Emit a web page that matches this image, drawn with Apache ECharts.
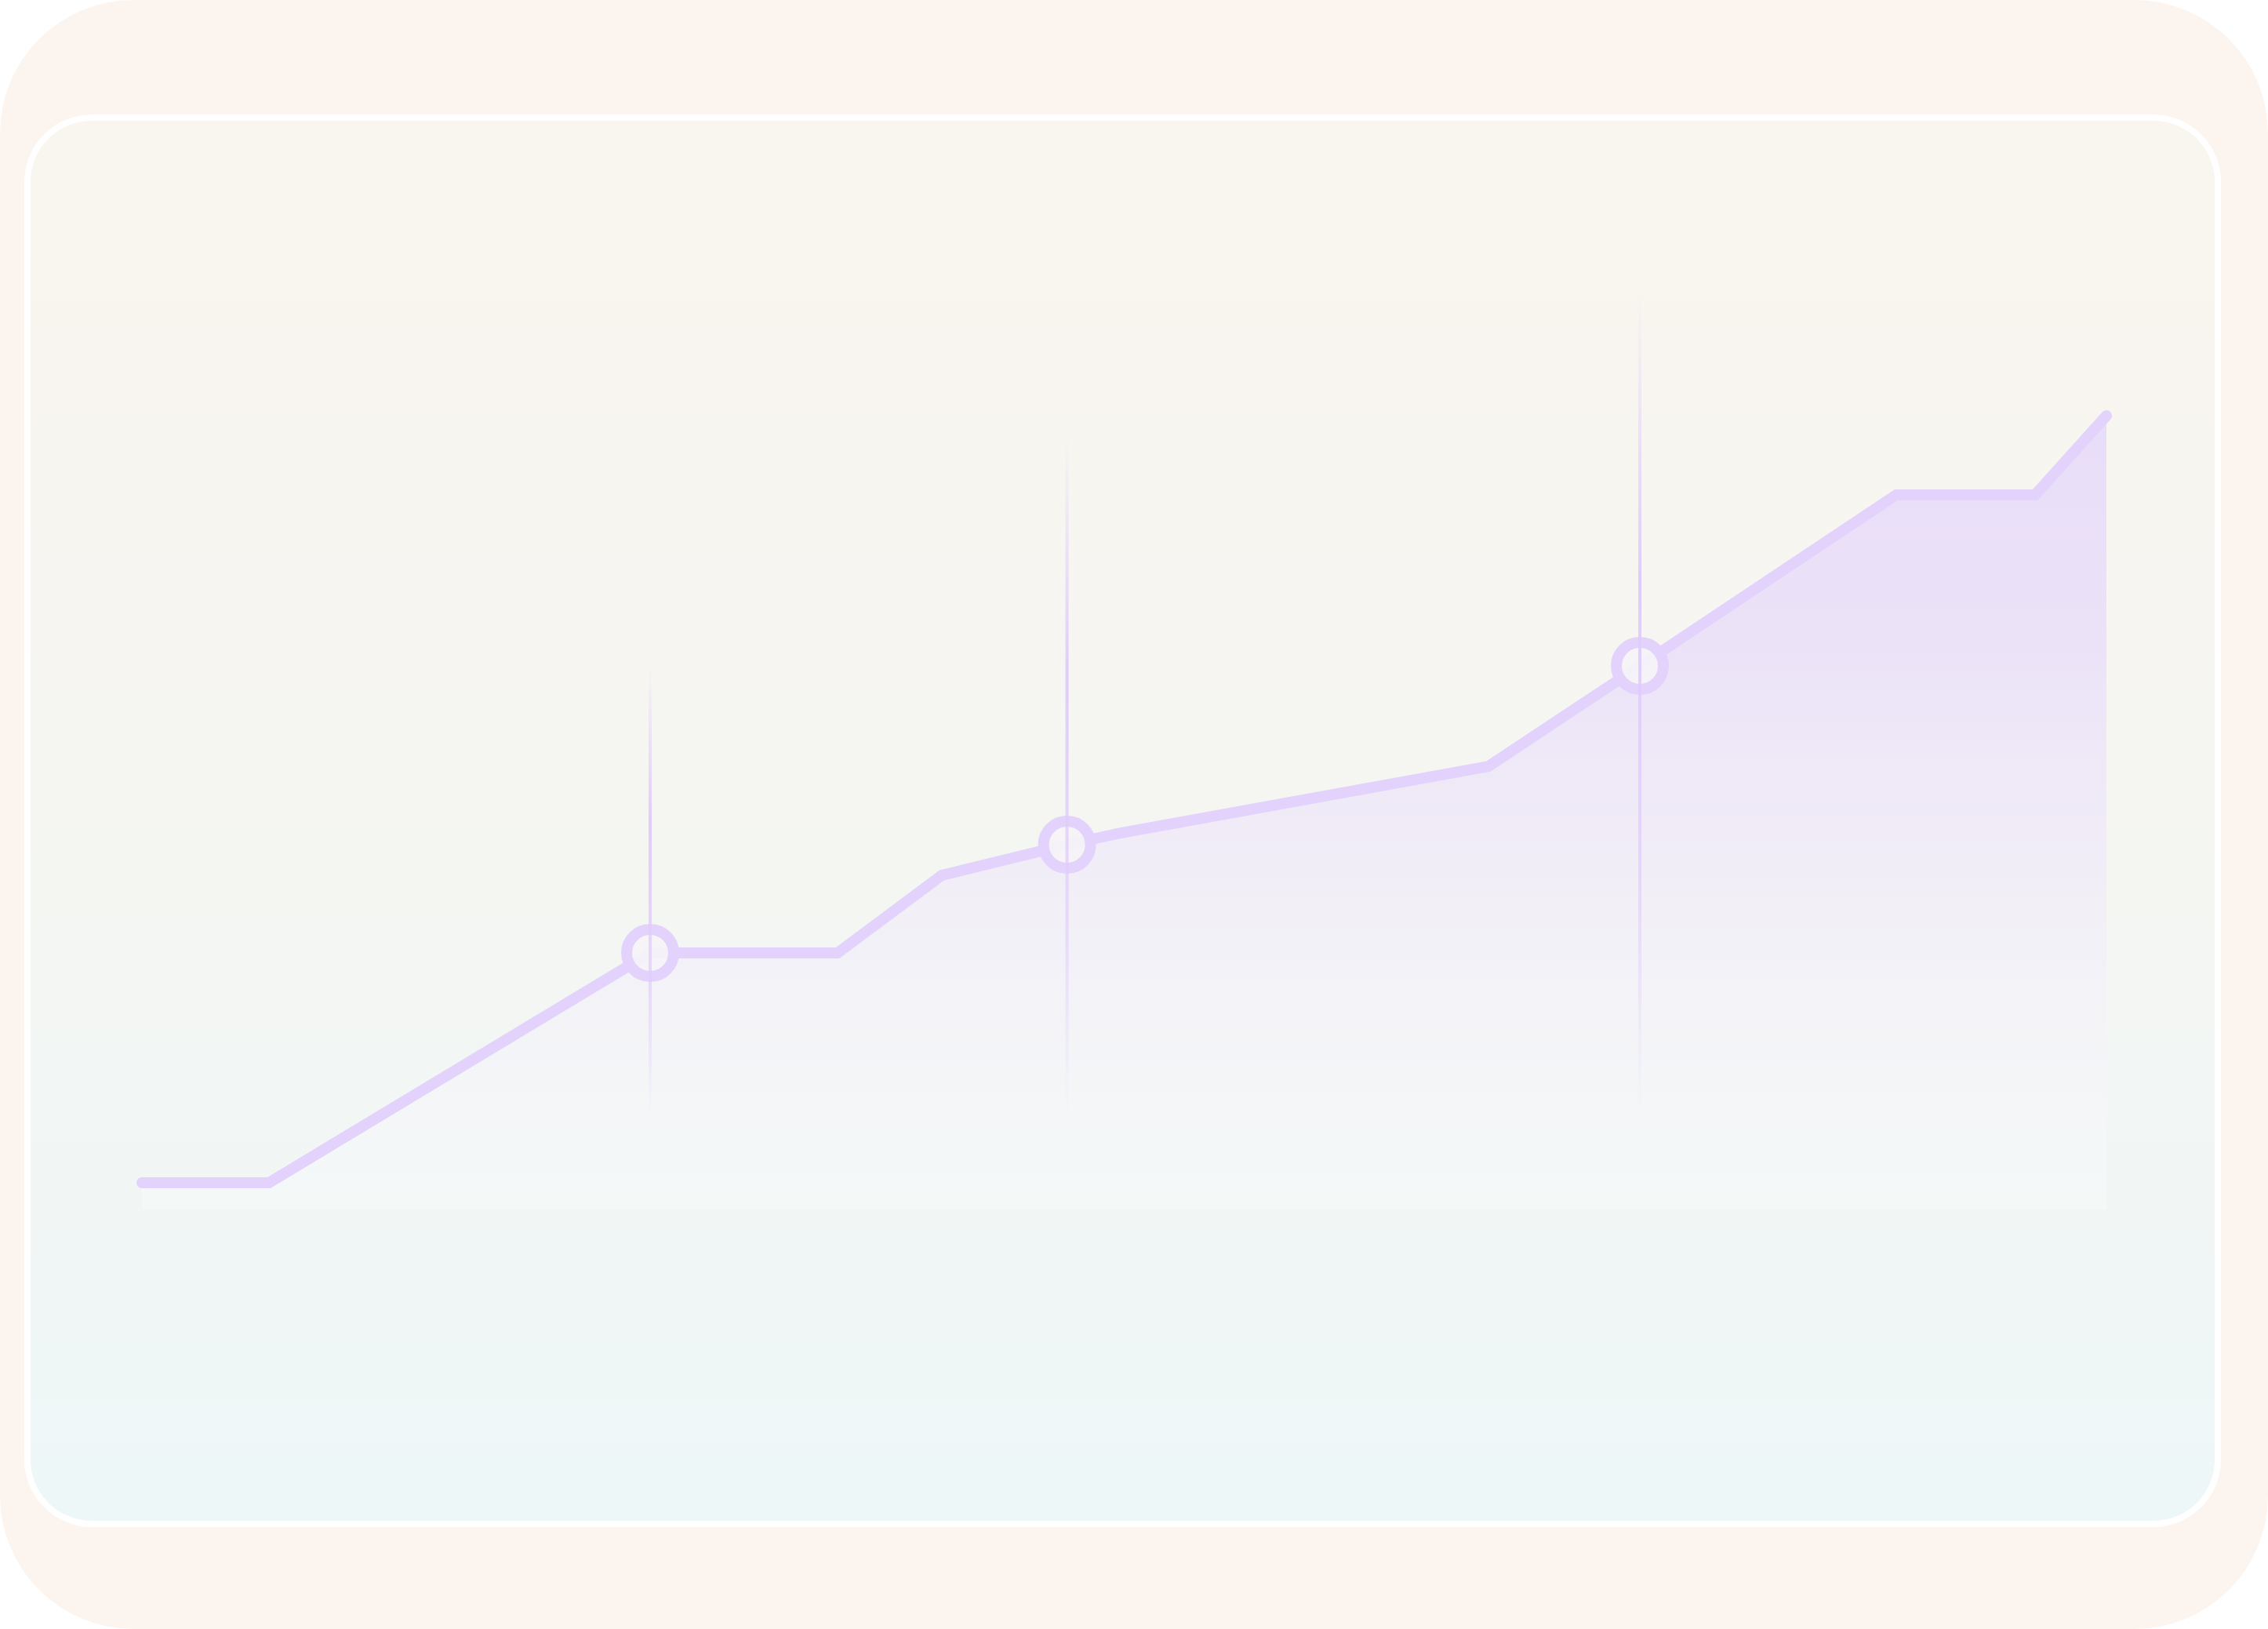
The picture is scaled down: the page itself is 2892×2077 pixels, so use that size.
<!DOCTYPE html>
<html>
<head>
<meta charset="utf-8">
<style>
  html, body { margin: 0; padding: 0; background: #ffffff; }
  #chart { width: 2892px; height: 2077px; }
</style>
<script src="https://cdn.jsdelivr.net/npm/echarts@6/dist/echarts.min.js"></script>
</head>
<body>
<div id="chart"></div>
<script>
// ---- data ----
const xValues = [0, 6.47, 25.87, 35.41, 40.72, 47.09, 49.82, 68.54, 76.25, 89.30, 96.37, 100];
const yValues = [2.83, 2.83, 27.25, 27.25, 35.5, 38.75, 40.0, 47.08, 57.75, 75.92, 75.92, 84.33];
const markerIndex = [2, 5, 8];
const guideX = [25.87, 47.09, 76.25];
const guideTop = [57.9, 82.5, 97.4];
const guideBottom = [10.25, 10.25, 10.25];

const LINE = '#E3D3FC';

const lineData = xValues.map((x, i) => {
  const item = { value: [x, yValues[i]] };
  if (markerIndex.includes(i)) {
    item.symbol = 'circle';
    item.symbolSize = 60;
    item.itemStyle = { color: 'rgba(246,244,247,0.9)', borderColor: LINE, borderWidth: 14 };
  } else {
    item.symbol = 'none';
  }
  return item;
});
const guideData = guideX.map((x, i) => [x, guideTop[i], guideBottom[i]]);

const chart = echarts.init(document.getElementById('chart'), null, { renderer: 'canvas' });
chart.setOption({
  animation: false,
  backgroundColor: 'transparent',
  graphic: [
    {
      type: 'rect', z: -10, silent: true,
      shape: { x: 0, y: 0, width: 2892, height: 2077, r: 170 },
      style: { fill: '#FCF5EF' }
    },
    {
      type: 'rect', z: -9, silent: true,
      shape: { x: 35, y: 150, width: 2793, height: 1793, r: 82 },
      style: {
        fill: new echarts.graphic.LinearGradient(0, 0, 0, 1, [
          { offset: 0, color: '#FAF5EF' },
          { offset: 0.5, color: '#F5F6F2' },
          { offset: 1, color: '#EEF7F8' }
        ]),
        stroke: '#FFFFFF', lineWidth: 8
      }
    }
  ],
  grid: { left: 181, right: 206, top: 342, bottom: 535 },
  xAxis: { type: 'value', min: 0, max: 100, show: false, splitLine: { show: false } },
  yAxis: { type: 'value', min: 0, max: 100, show: false, splitLine: { show: false } },
  series: [
    {
      type: 'line',
      data: lineData,
      clip: false,
      z: 2,
      showSymbol: true,
      lineStyle: { color: LINE, width: 14, cap: 'round', join: 'miter' },
      areaStyle: {
        color: new echarts.graphic.LinearGradient(0, 0, 0, 1, [
          { offset: 0, color: 'rgba(226,210,252,1)' },
          { offset: 0.3, color: 'rgba(230,217,251,0.95)' },
          { offset: 0.6, color: 'rgba(240,233,250,0.85)' },
          { offset: 1, color: 'rgba(250,252,252,0.5)' }
        ])
      },
      emphasis: { disabled: true }
    },
    {
      type: 'custom',
      z: 3,
      silent: true,
      clip: false,
      data: guideData,
      renderItem: function (params, api) {
        const top = api.coord([api.value(0), api.value(1)]);
        const bot = api.coord([api.value(0), api.value(2)]);
        return {
          type: 'rect',
          shape: { x: top[0] - 2, y: top[1], width: 4, height: bot[1] - top[1] },
          style: {
            fill: new echarts.graphic.LinearGradient(0, 0, 0, 1, [
              { offset: 0, color: 'rgba(224,204,252,0)' },
              { offset: 0.35, color: 'rgba(224,204,252,1)' },
              { offset: 0.7, color: 'rgba(224,204,252,0.7)' },
              { offset: 1, color: 'rgba(224,204,252,0)' }
            ])
          }
        };
      }
    }
  ]
});
</script>
</body>
</html>
